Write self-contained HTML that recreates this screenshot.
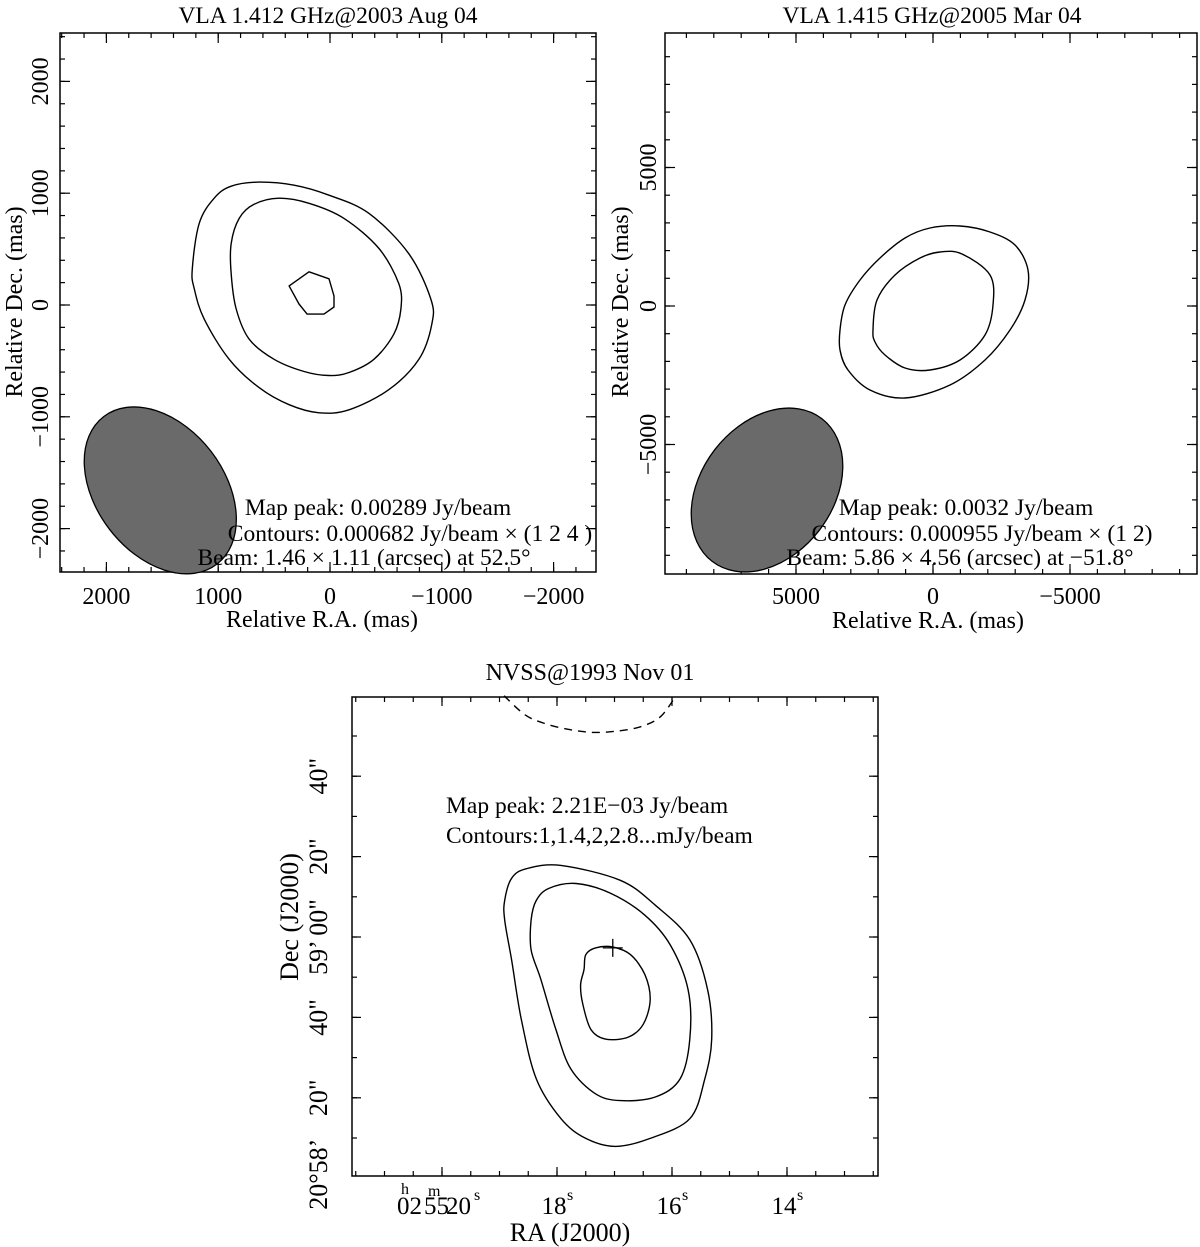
<!DOCTYPE html>
<html><head><meta charset="utf-8"><style>
html,body{margin:0;padding:0;background:#fff;}
svg{display:block;font-family:"Liberation Serif",serif;}
</style></head><body>
<svg id="fig" width="1200" height="1247" viewBox="0 0 1200 1247" xmlns="http://www.w3.org/2000/svg"></svg>
<script>
// ---------- Panel 1 data (mas) ----------
const p1OuterRA=[1232,1170,1036,884,634,321,9,-348,-705,-902,-911,-795,-527,-170,98,366,634,902,1125,1214];
const p1OuterDec=[324,730,955,1063,1099,1072,982,820,459,54,-171,-486,-757,-937,-964,-892,-739,-486,-126,144];
const p1MidRA=[884,812,679,455,188,-125,-438,-616,-634,-571,-393,-170,9,232,500,723,839,884];
const p1MidDec=[550,775,901,955,910,775,505,189,-36,-261,-486,-604,-631,-595,-486,-306,-36,279];
const p1InRA=[366,188,9,-36,-36,54,205,277];
const p1InDec=[171,297,234,81,-18,-81,-81,9];
const p1XTicks=[2000,1000,0,-1000,-2000];
const p1YTicks=[-2000,-1000,0,1000,2000];
const p1Beam=[1518,-1658];
// ---------- Panel 2 data (mas) ----------
const p2OuterRA=[3394,3212,2664,1934,1022,109,-985,-2080,-2993,-3467,-3358,-2810,-1898,-620,1022,2299,3102,3394];
const p2OuterDec=[-866,36,939,1733,2455,2816,2888,2671,2202,1300,217,-866,-1949,-2852,-3321,-3032,-2310,-1588];
const p2InRA=[2190,2044,1387,474,-255,-1058,-2080,-2190,-1898,-985,109,1022,1752,2117];
const p2InDec=[-866,217,1119,1733,1949,1877,1119,36,-1047,-1949,-2310,-2238,-1769,-1300];
const p2XTicks=[5000,0,-5000];
const p2YTicks=[-5000,0,5000];
const p2Beam=[6058,-6643];
// ---------- Panel 3 data (RA seconds, Dec arcsec offset from 20°59'00") ----------
const p3OuterS=[18.91,18.79,18.53,17.93,16.90,16.29,15.69,15.38,15.31,15.43,15.69,16.38,16.98,17.50,17.93,18.36,18.62,18.79,18.91];
const p3OuterD=[9.1,14.6,17.0,17.8,14.1,7.9,-0.7,-13.1,-25.4,-35.3,-45.2,-50.1,-52.1,-50.1,-45.2,-35.3,-20.5,-5.7,4.2];
const p3MidS=[18.45,18.36,18.14,17.67,17.07,16.47,16.03,15.72,15.69,15.86,16.29,16.90,17.33,17.76,18.02,18.28,18.45];
const p3MidD=[4.2,9.1,12.1,13.3,10.9,5.4,-2.0,-13.1,-25.4,-35.3,-39.8,-40.7,-39.0,-32.8,-23.0,-10.6,-3.2];
const p3InS=[17.53,17.50,17.33,17.03,16.72,16.47,16.38,16.50,16.76,17.16,17.41,17.55,17.59];
const p3InD=[-8.1,-4.4,-2.7,-2.5,-4.4,-9.4,-15.6,-21.7,-24.9,-25.4,-23.0,-16.8,-11.9];
const p3DashS=[18.92,18.55,18.19,17.78,17.38,16.97,16.55,16.20,15.93];
const p3DashD=[60,55.2,53.0,51.6,50.9,51.2,52.3,54.8,60];
const p3Cross=[17.03,-2.7];
const p3XTicks=[20,18,16,14];
const p3YTicks=[40,20,0,-20,-40,-60];

const NS='http://www.w3.org/2000/svg';
const svg=document.getElementById('fig');
function mk(tag,attrs,parent){const e=document.createElementNS(NS,tag);for(const k in attrs)e.setAttribute(k,attrs[k]);(parent||svg).appendChild(e);return e;}
function txt(s,x,y,size,anchor,parent,rot){const t=mk('text',{x:x,y:y,'font-size':size,'text-anchor':anchor||'middle',fill:'#000'},parent);if(rot)t.setAttribute('transform','rotate(-90 '+x+' '+y+')');t.textContent=s;return t;}
function smooth(pts,closed){
  const n=pts.length;let d='M'+pts[0][0].toFixed(1)+','+pts[0][1].toFixed(1);
  const get=i=>closed?pts[(i+n)%n]:pts[Math.max(0,Math.min(n-1,i))];
  const last=closed?n:n-1;
  for(let i=0;i<last;i++){const p0=get(i-1),p1=get(i),p2=get(i+1),p3=get(i+2);
    const c1=[p1[0]+(p2[0]-p0[0])/6,p1[1]+(p2[1]-p0[1])/6],c2=[p2[0]-(p3[0]-p1[0])/6,p2[1]-(p3[1]-p1[1])/6];
    d+='C'+c1[0].toFixed(1)+','+c1[1].toFixed(1)+' '+c2[0].toFixed(1)+','+c2[1].toFixed(1)+' '+p2[0].toFixed(1)+','+p2[1].toFixed(1);}
  return d+(closed?'Z':'');}
function poly(pts){return 'M'+pts.map(p=>p[0].toFixed(1)+','+p[1].toFixed(1)).join('L')+'Z';}
function contour(xs,ys,fx,fy,g,name,dash,angular){
  const pts=xs.map((v,i)=>[fx(v),fy(ys[i])]);
  const p=mk('path',{d:angular?poly(pts):smooth(pts,!dash),fill:'none',stroke:'#000','stroke-width':1.4,'stroke-linejoin':'round'},g);
  if(dash)p.setAttribute('stroke-dasharray','8,6');
  
  
}
function frame(g,L,T,R,B){mk('rect',{x:L,y:T,width:R-L,height:B-T,fill:'none',stroke:'#000','stroke-width':1.5},g);}
function ticksX(g,fx,vals,T,B,len,L,R){vals.forEach(v=>{const x=fx(v);if(x<L||x>R)return;mk('line',{x1:x,y1:B,x2:x,y2:B-len,stroke:'#000','stroke-width':1.2},g);mk('line',{x1:x,y1:T,x2:x,y2:T+len,stroke:'#000','stroke-width':1.2},g);});}
function ticksY(g,fy,vals,L,R,len,T,B){vals.forEach(v=>{const y=fy(v);if(y<T||y>B)return;mk('line',{x1:L,y1:y,x2:L+len,y2:y,stroke:'#000','stroke-width':1.2},g);mk('line',{x1:R,y1:y,x2:R-len,y2:y,stroke:'#000','stroke-width':1.2},g);});}
function range(a,b,s){const r=[];for(let v=a;v<=b+1e-9;v+=s)r.push(+v.toFixed(4));return r;}
function fmt(v){return v<0?'\u2212'+(-v):''+v;}

// ---------- Panel 1 ----------
(function(){
  const g=mk('g',{});
  const L=60,T=33,R=596,B=572;
  const fx=v=>330-0.1118*v, fy=v=>305-0.1118*v;
  frame(g,L,T,R,B);
  ticksX(g,fx,range(-2400,2400,200),T,B,5,L,R);ticksX(g,fx,p1XTicks,T,B,10,L,R);
  ticksY(g,fy,range(-2400,2400,200),L,R,5,T,B);ticksY(g,fy,p1YTicks,L,R,10,T,B);
  p1XTicks.forEach(v=>txt(fmt(v),fx(v),604,24,'middle',g));
  p1YTicks.forEach(v=>txt(fmt(v),48,fy(v),24,'middle',g,true));
  const e=mk('ellipse',{cx:fx(p1Beam[0]),cy:fy(p1Beam[1]),rx:64,ry:93,fill:'#6a6a6a',stroke:'#000','stroke-width':1.3,transform:'rotate(-37.5 '+fx(p1Beam[0])+' '+fy(p1Beam[1])+')'},g);
  
  contour(p1OuterRA,p1OuterDec,fx,fy,g,'contour-outer');
  contour(p1MidRA,p1MidDec,fx,fy,g,'contour-middle');
  contour(p1InRA,p1InDec,fx,fy,g,'contour-inner',false,true);
  txt('Map peak: 0.00289 Jy/beam',378,515,23.5,'middle',g);
  txt('Contours: 0.000682 Jy/beam \u00d7 (1 2 4 )',410,541,23.5,'middle',g);
  txt('Beam: 1.46 \u00d7 1.11 (arcsec) at 52.5\u00b0',364,565,23.5,'middle',g);
  txt('VLA 1.412 GHz@2003 Aug 04',328,23,23.5,'middle',g);
  txt('Relative R.A. (mas)',322,627,24,'middle',g);
  txt('Relative Dec. (mas)',22,302,24,'middle',g,true);
})();

// ---------- Panel 2 ----------
(function(){
  const g=mk('g',{});
  const L=665,T=33,R=1197,B=574;
  const fx=v=>933-0.0274*v, fy=v=>306-0.0277*v;
  frame(g,L,T,R,B);
  ticksX(g,fx,range(-9000,9000,1000),T,B,5,L,R);ticksX(g,fx,p2XTicks,T,B,10,L,R);
  ticksY(g,fy,range(-9000,9000,1000),L,R,5,T,B);ticksY(g,fy,p2YTicks,L,R,10,T,B);
  p2XTicks.forEach(v=>txt(fmt(v),fx(v),604,24,'middle',g));
  p2YTicks.forEach(v=>txt(fmt(v),656,fy(v),24,'middle',g,true));
  const e=mk('ellipse',{cx:fx(p2Beam[0]),cy:fy(p2Beam[1]),rx:66,ry:90,fill:'#6a6a6a',stroke:'#000','stroke-width':1.3,transform:'rotate(37.5 '+fx(p2Beam[0])+' '+fy(p2Beam[1])+')'},g);
  
  contour(p2OuterRA,p2OuterDec,fx,fy,g,'contour-outer');
  contour(p2InRA,p2InDec,fx,fy,g,'contour-inner');
  txt('Map peak: 0.0032 Jy/beam',966,515,23.5,'middle',g);
  txt('Contours: 0.000955 Jy/beam \u00d7 (1 2)',982,541,23.5,'middle',g);
  txt('Beam: 5.86 \u00d7 4.56 (arcsec) at \u221251.8\u00b0',960,565,23.5,'middle',g);
  txt('VLA 1.415 GHz@2005 Mar 04',932,23,23.5,'middle',g);
  txt('Relative R.A. (mas)',928,628,24,'middle',g);
  txt('Relative Dec. (mas)',628,302,24,'middle',g,true);
})();

// ---------- Panel 3 ----------
(function(){
  const g=mk('g',{});
  const L=352,T=697,R=878,B=1176;
  const fx=v=>442+(20-v)*57.5, fy=v=>937-4.02*v;
  frame(g,L,T,R,B);
  ticksX(g,fx,range(12.5,21.5,0.5),T,B,5,L,R);ticksX(g,fx,p3XTicks,T,B,9,L,R);
  ticksY(g,fy,range(-60,59,10),L,R,5,T,B);ticksY(g,fy,p3YTicks,L,R,9,T,B);
  txt('02',397,1214,25,'start',g);
  txt('h',401,1194,16,'start',g);txt('55',424,1214,25,'start',g);txt('m',428,1196,16,'start',g);
  txt('20',446,1214,25,'start',g);txt('s',474,1200,16,'start',g);
  [18,16,14].forEach(v=>{txt(''+v,fx(v)-3,1214,25,'middle',g);txt('s',fx(v)+10,1200,16,'start',g);});
  const lab={40:'40"',20:'20"',0:'59\u2019 00"','-20':'40"','-40':'20"','-60':'20\u00b058\u2019'};
  p3YTicks.forEach(v=>{txt(lab[v],327,fy(v)+(v==-60?-4:0),26,'middle',g,true);});
  contour(p3DashS,p3DashD,fx,fy,g,'contour-negative',true);
  contour(p3OuterS,p3OuterD,fx,fy,g,'contour-outer');
  contour(p3MidS,p3MidD,fx,fy,g,'contour-middle');
  contour(p3InS,p3InD,fx,fy,g,'contour-inner');
  const cx=fx(p3Cross[0]),cy=fy(p3Cross[1]);
  const c=mk('path',{d:'M'+(cx-10)+','+cy+'H'+(cx+10)+'M'+cx+','+(cy-9)+'V'+(cy+9),stroke:'#000','stroke-width':1.3,fill:'none'},g);
  
  txt('Map peak: 2.21E\u221203 Jy/beam',446,813,23.5,'start',g);
  txt('Contours:1,1.4,2,2.8...mJy/beam',446,843,23.5,'start',g);
  txt('NVSS@1993 Nov 01',590,680,24,'middle',g);
  txt('RA (J2000)',570,1241,26,'middle',g);
  txt('Dec (J2000)',298,917,26,'middle',g,true);
})();
</script>
</body></html>
